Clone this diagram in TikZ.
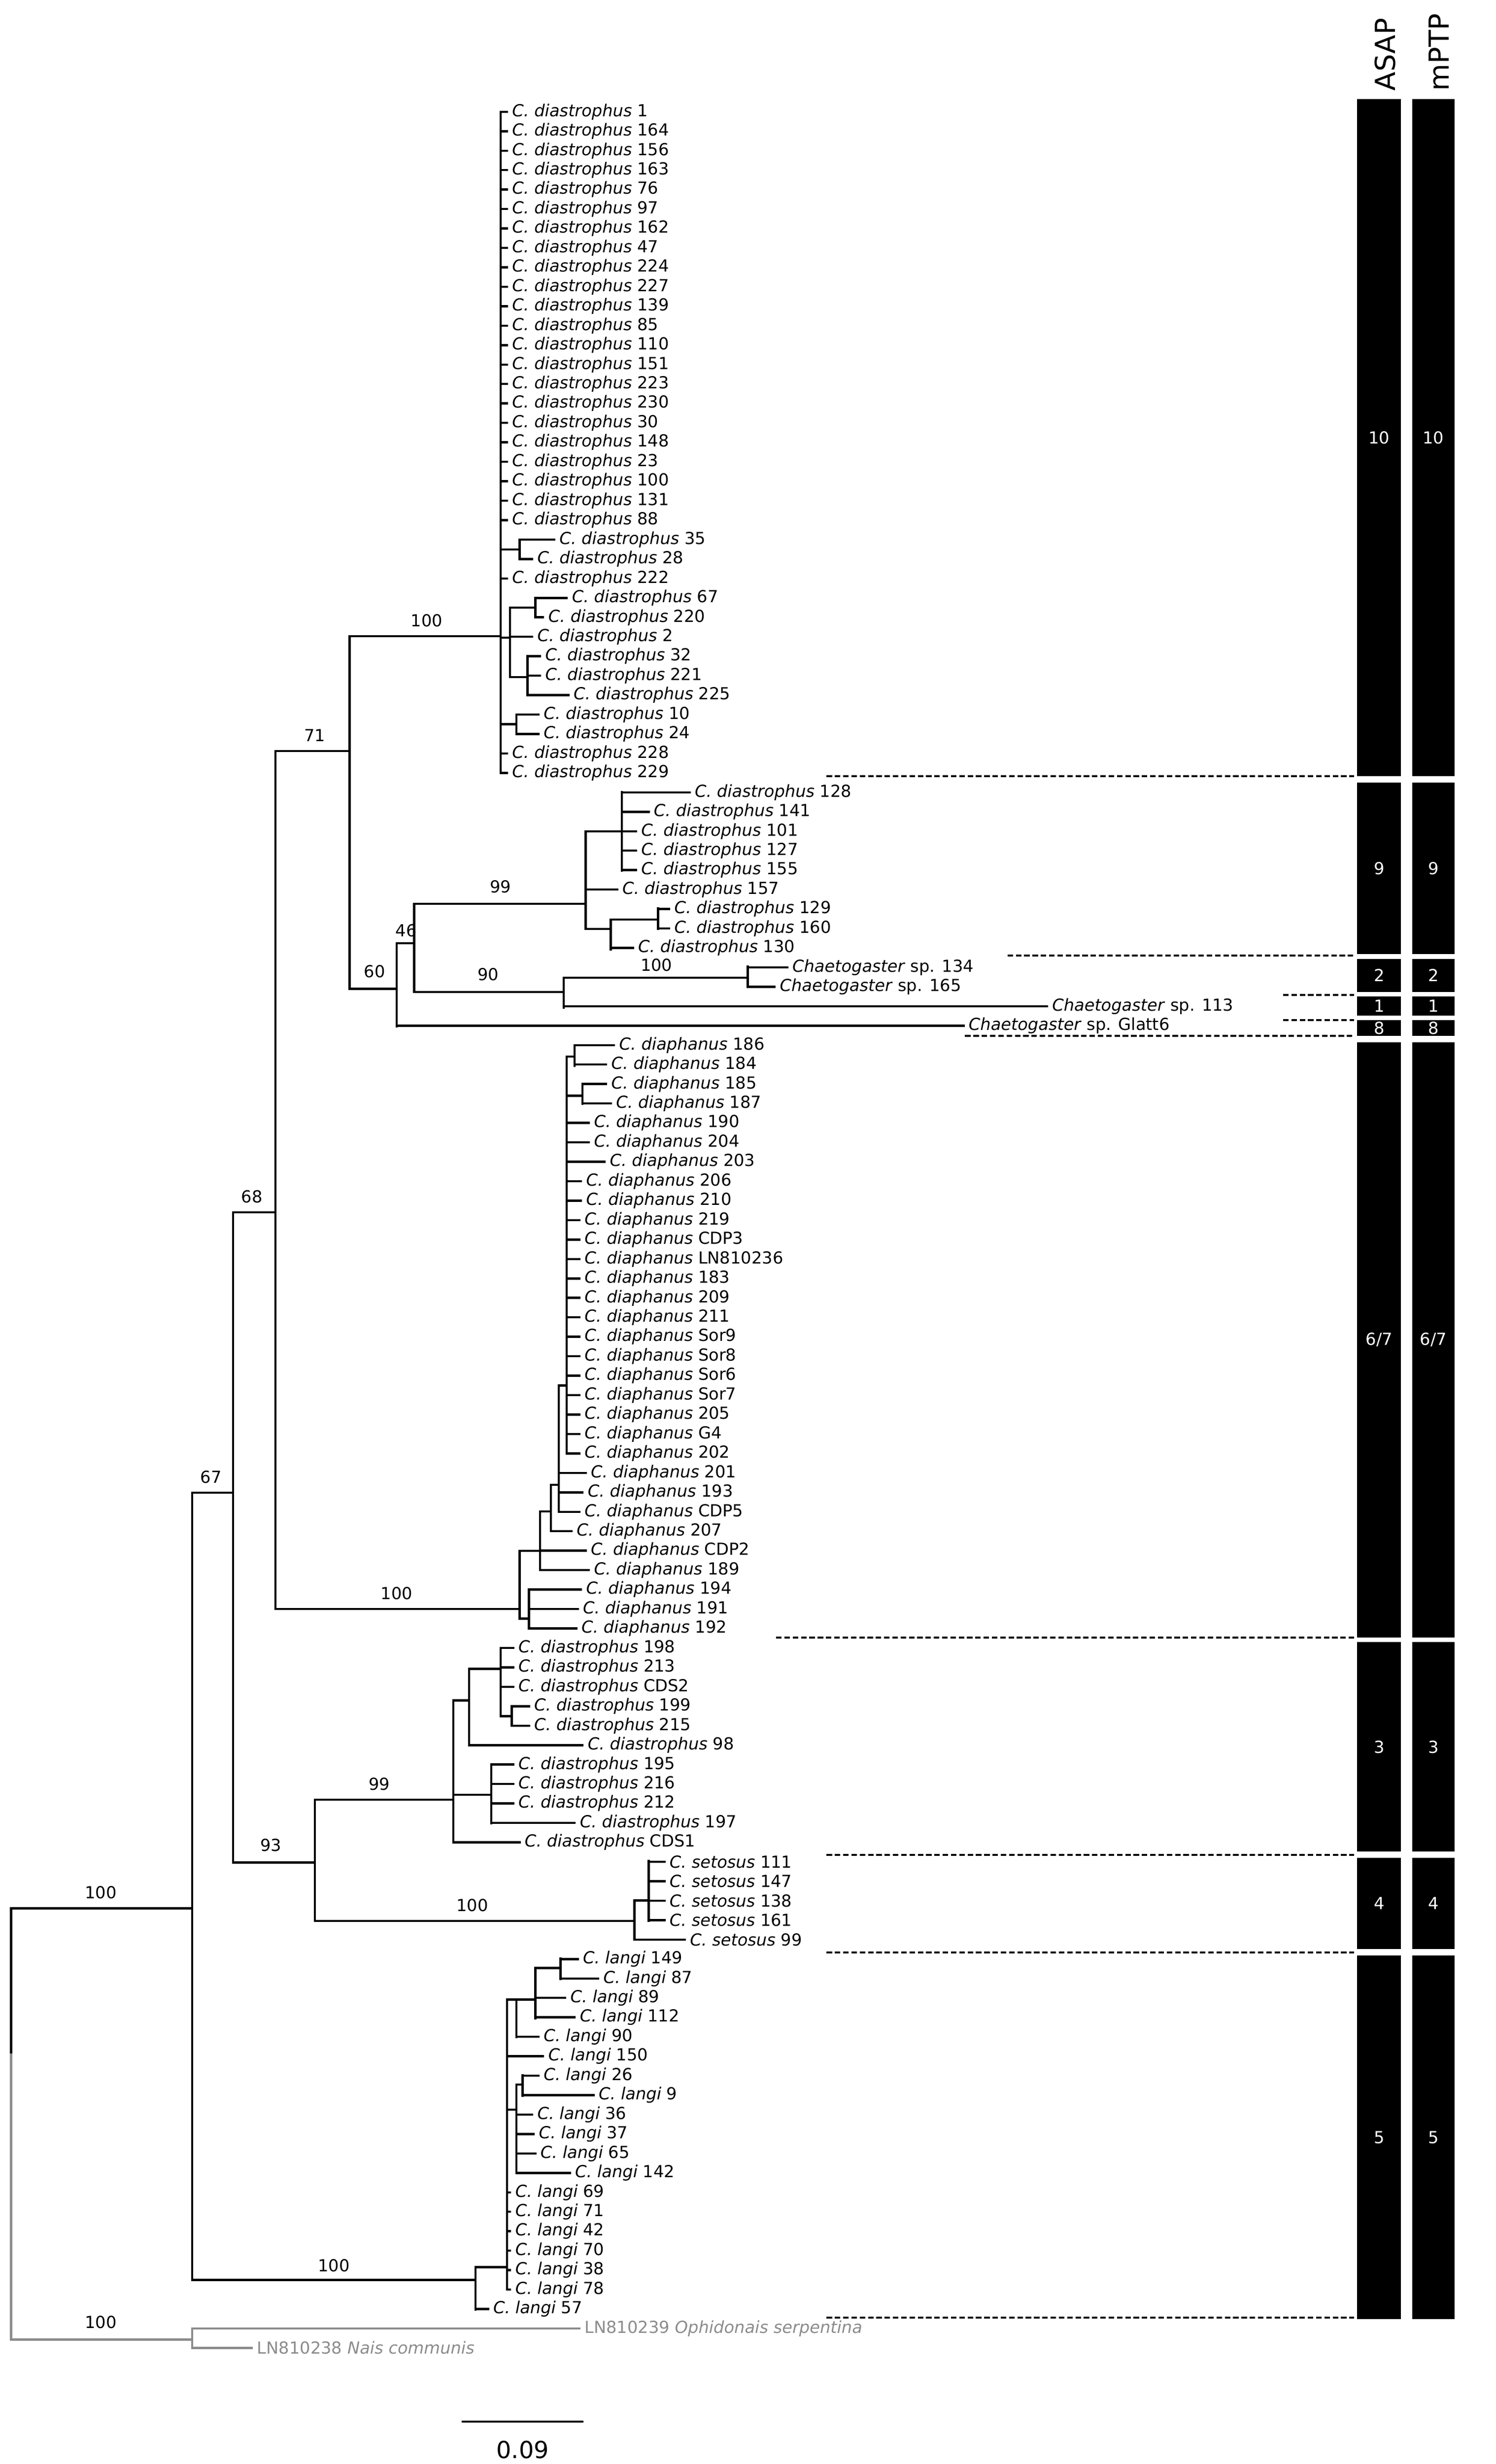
\documentclass[tikz,border=0pt]{standalone}
\usepackage{fontspec}
\setmainfont{DejaVu Sans}
\begin{document}
\begin{tikzpicture}[x=0.02cm,y=-0.02cm,
 br/.style={line width=0.8pt,line cap=rect},
 lf/.style={font=\fontsize{6}{7}\selectfont,inner sep=1.5pt},
 bsl/.style={font=\fontsize{6}{7}\selectfont},
 dl/.style={line width=0.7pt,dash pattern=on 2pt off 1pt},
 bar/.style={fill=black},
 hd/.style={rotate=90,anchor=west,inner sep=0pt,font=\fontsize{10}{12}\selectfont},
 bt/.style={text=white,font=\fontsize{6}{7}\selectfont}]
\definecolor{og}{HTML}{8C8C8C}
\useasboundingbox (0,0) rectangle (950,1565);
\newcommand\yy[1]{(71+12.35*(#1))}
\newcommand\tip[4]{\draw[br] (#2,{\yy{#1}}) -- (#3,{\yy{#1}}) node[lf,anchor=west] (L#1) {#4};}
\newcommand\hb[3]{\draw[br] (#1,#2) -- (#3,#2);}
\newcommand\vb[3]{\draw[br] (#1,#2) -- (#1,#3);}
\newcommand\bsup[3]{\node[bsl] at (#1,#2) {#3};}
\newcommand\cd[1]{\textit{C. diastrophus} #1}
\newcommand\cp[1]{\textit{C. diaphanus} #1}
\newcommand\cs[1]{\textit{C. setosus} #1}
\newcommand\cl[1]{\textit{C. langi} #1}
% root and backbone
\vb{7}{1212}{1305}
\draw[br,og] (7,1305) -- (7,1486) -- (122,1486);
\draw[br,og] (122,1479) -- (122,1491);
\draw[br,og] (122,{\yy{114}}) -- (368,{\yy{114}}) node[lf,anchor=west,text=og] (L114) {LN810239 \textit{Ophidonais serpentina}};
\draw[br,og] (122,{\yy{115}}) -- (160,{\yy{115}}) node[lf,anchor=west,text=og] (L115) {LN810238 \textit{Nais communis}};
\bsup{64}{1475}{100}
\hb{7}{1212}{122} \bsup{64}{1202}{100}
\vb{122}{948}{1448}
\hb{122}{948}{148} \bsup{134}{938}{67}
\hb{122}{1448}{302} \bsup{212}{1439}{100}
\vb{148}{770}{1183}
\hb{148}{770}{175} \bsup{160}{760}{68}
\hb{148}{1183}{200} \bsup{172}{1172}{93}
\vb{175}{477}{1022}
\hb{175}{477}{222} \bsup{200}{467}{71}
\hb{175}{1022}{330} \bsup{252}{1012}{100}
\vb{222}{404}{628}
\hb{222}{404}{318} \bsup{271}{394}{100}
\hb{222}{628}{252} \bsup{238}{617}{60}
\vb{252}{599}{652}
\hb{252}{599}{263} \bsup{258}{591}{46}
\tip{47}{252}{612}{\textit{Chaetogaster} sp. Glatt6}
\vb{263}{574}{630}
\hb{263}{574}{372} \bsup{318}{563}{99}
\hb{263}{630}{358} \bsup{310}{619}{90}
% Chaetogaster
\vb{358}{621}{640}
\hb{358}{621}{475} \bsup{417}{613}{100}
\vb{475}{614}{627}
\tip{44}{475}{500}{\textit{Chaetogaster} sp. 134}
\tip{45}{475}{492}{\textit{Chaetogaster} sp. 165}
\tip{46}{358}{665}{\textit{Chaetogaster} sp. 113}
% diastrophus A
\vb{318}{71}{491}
\foreach \i/\n in {0/1,1/164,2/156,3/163,4/76,5/97,6/162,7/47,8/224,9/227,10/139,11/85,12/110,13/151,14/223,15/230,16/30,17/148,18/23,19/100,20/131,21/88,24/222,33/228,34/229}{\tip{\i}{318}{322}{\cd{\n}}}
\hb{318}{349}{330} \vb{330}{343}{355}
\tip{22}{330}{352}{\cd{35}} \tip{23}{330}{338}{\cd{28}}
\hb{318}{405}{324} \vb{324}{386}{430}
\hb{324}{386}{340} \vb{340}{380}{392}
\tip{25}{340}{360}{\cd{67}} \tip{26}{340}{345}{\cd{220}}
\tip{27}{324}{338}{\cd{2}}
\hb{324}{430}{335} \vb{335}{417}{441}
\tip{28}{335}{343}{\cd{32}} \tip{29}{335}{343}{\cd{221}} \tip{30}{335}{361}{\cd{225}}
\hb{318}{460}{328} \vb{328}{454}{466}
\tip{31}{328}{342}{\cd{10}} \tip{32}{328}{342}{\cd{24}}
% clade B
\vb{372}{528}{590}
\hb{372}{528}{395} \vb{395}{503}{553}
\tip{35}{395}{438}{\cd{128}} \tip{36}{395}{412}{\cd{141}}
\tip{37}{395}{404}{\cd{101}} \tip{38}{395}{404}{\cd{127}} \tip{39}{395}{404}{\cd{155}}
\tip{40}{372}{392}{\cd{157}}
\hb{372}{590}{388} \vb{388}{584}{603}
\hb{388}{584}{418} \vb{418}{577}{590}
\tip{41}{418}{425}{\cd{129}} \tip{42}{418}{425}{\cd{160}}
\tip{43}{388}{402}{\cd{130}}
% diaphanus
\vb{330}{985}{1028}
\hb{330}{985}{343} \vb{343}{960}{997}
\hb{343}{960}{350} \vb{350}{943}{972}
\hb{350}{943}{355} \vb{355}{880}{960}
\hb{355}{880}{360} \vb{360}{671}{923}
\hb{360}{671}{365} \vb{365}{664}{677}
\tip{48}{365}{390}{\cp{186}} \tip{49}{365}{385}{\cp{184}}
\hb{360}{696}{370} \vb{370}{689}{701}
\tip{50}{370}{385}{\cp{185}} \tip{51}{370}{388}{\cp{187}}
\tip{52}{360}{374}{\cp{190}} \tip{53}{360}{374}{\cp{204}} \tip{54}{360}{384}{\cp{203}}
\tip{55}{360}{369}{\cp{206}} \tip{56}{360}{369}{\cp{210}}
\foreach \i/\n in {57/219,58/CDP3,59/LN810236,60/183,61/209,62/211,63/Sor9,64/Sor8,65/Sor6,66/Sor7,67/205,68/G4,69/202}{\tip{\i}{360}{368}{\cp{\n}}}
\tip{70}{355}{372}{\cp{201}} \tip{71}{355}{370}{\cp{193}} \tip{72}{355}{368}{\cp{CDP5}}
\tip{73}{350}{363}{\cp{207}}
\tip{74}{343}{372}{\cp{CDP2}} \tip{75}{343}{374}{\cp{189}}
\hb{330}{1028}{336} \vb{336}{1010}{1034}
\tip{76}{336}{369}{\cp{194}} \tip{77}{336}{367}{\cp{191}} \tip{78}{336}{366}{\cp{192}}
% diastrophus C + setosus
\vb{200}{1143}{1220}
\hb{200}{1143}{288} \bsup{241}{1133}{99}
\hb{200}{1220}{403} \bsup{300}{1210}{100}
\vb{288}{1080}{1170}
\hb{288}{1080}{298} \vb{298}{1060}{1108}
\hb{298}{1060}{318} \vb{318}{1047}{1090}
\tip{79}{318}{326}{\cd{198}} \tip{80}{318}{326}{\cd{213}} \tip{81}{318}{326}{\cd{CDS2}}
\hb{318}{1090}{325} \vb{325}{1084}{1096}
\tip{82}{325}{336}{\cd{199}} \tip{83}{325}{336}{\cd{215}}
\tip{84}{298}{370}{\cd{98}}
\hb{288}{1140}{312} \vb{312}{1121}{1158}
\tip{85}{312}{326}{\cd{195}} \tip{86}{312}{326}{\cd{216}} \tip{87}{312}{326}{\cd{212}} \tip{88}{312}{365}{\cd{197}}
\tip{89}{288}{330}{\cd{CDS1}}
\vb{403}{1207}{1232}
\hb{403}{1207}{412} \vb{412}{1182}{1220}
\foreach \i/\n in {90/111,91/147,92/138,93/161}{\tip{\i}{412}{422}{\cs{\n}}}
\tip{94}{403}{435}{\cs{99}}
% langi
\vb{302}{1440}{1467}
\hb{302}{1440}{322}
\tip{113}{302}{310}{\cl{57}}
\vb{322}{1270}{1454}
\hb{322}{1270}{328} \vb{328}{1270}{1294}
\hb{328}{1270}{340} \vb{340}{1250}{1282}
\hb{340}{1250}{356} \vb{356}{1244}{1257}
\tip{95}{356}{367}{\cl{149}} \tip{96}{356}{380}{\cl{87}}
\tip{97}{340}{359}{\cl{89}} \tip{98}{340}{365}{\cl{112}}
\tip{99}{328}{342}{\cl{90}}
\tip{100}{322}{345}{\cl{150}}
\hb{322}{1340}{328} \vb{328}{1324}{1380}
\hb{328}{1324}{332} \vb{332}{1318}{1331}
\tip{101}{332}{342}{\cl{26}} \tip{102}{332}{377}{\cl{9}}
\tip{103}{328}{338}{\cl{36}} \tip{104}{328}{339}{\cl{37}} \tip{105}{328}{340}{\cl{65}} \tip{106}{328}{362}{\cl{142}}
\foreach \i/\n in {107/69,108/71,109/42,110/70,111/38,112/78}{\tip{\i}{322}{324}{\cl{\n}}}
% dashed lines
\draw[dl] (525,493) -- (860,493);
\draw[dl] (640,607) -- (860,607);
\draw[dl] (815,632) -- (860,632);
\draw[dl] (815,648) -- (860,648);
\draw[dl] (613,658) -- (860,658);
\draw[dl] (493,1040) -- (860,1040);
\draw[dl] (525,1178) -- (860,1178);
\draw[dl] (525,1240) -- (860,1240);
\draw[dl] (525,1472) -- (860,1472);
% bars
\foreach \xa/\xb/\xc in {862/890/876,897/924/910.5}{
 \foreach \ya/\yb/\t in {63/493/10,497/606/9,609/630/2,633/645/1,648/658/8,662/1040/6\slash7,1043/1176/3,1180/1238/4,1242/1473/5}{
  \fill[bar] (\xa,\ya) rectangle (\xb,\yb);
  \node[bt,inner sep=0pt] at (\xc,{(\ya+\yb)/2}) {\t};
 }}
\node[hd] (asap) at (880,58) {ASAP};
\node[hd] (mptp) at (914,58) {mPTP};
% scale bar
\draw[br] (294,1538) -- (370,1538);
\node[font=\fontsize{8.5}{10}\selectfont] (sc) at (332,1556) {0.09};
\end{tikzpicture}
\end{document}
